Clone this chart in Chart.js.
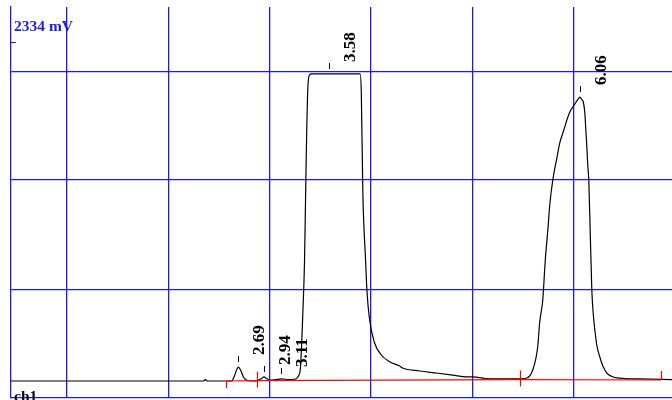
<!DOCTYPE html>
<html>
<head>
<meta charset="utf-8">
<script src="https://cdn.jsdelivr.net/npm/chart.js@4"></script>
<style>
  body { margin: 0; background: #fff; }
  canvas { display: block; }
</style>
</head>
<body>
<canvas id="chrom" width="672" height="400"></canvas>
<script>
// retention time (min) and signal (mV)
const traceTime = [0.447, 2.345, 2.365, 2.385, 2.622, 2.651, 2.676, 2.691, 2.711, 2.740, 2.770, 2.829,
  2.879, 2.918, 2.943, 2.967, 3.007, 3.056, 3.116, 3.195, 3.254, 3.283, 3.303, 3.326, 3.343, 3.359,
  3.375, 3.392, 3.412, 3.891, 3.903, 3.918, 3.945, 3.958, 3.985, 4.034, 4.100, 4.182, 4.281, 4.310,
  4.478, 4.646, 4.804, 4.943, 5.001, 5.169, 5.436, 5.535, 5.594, 5.643, 5.663, 5.693, 5.718, 5.743,
  5.762, 5.792, 5.832, 5.861, 5.901, 5.931, 5.960, 5.990, 6.029, 6.045, 6.060, 6.075, 6.093, 6.108,
  6.118, 6.128, 6.137, 6.147, 6.162, 6.177, 6.192, 6.207, 6.226, 6.256, 6.286, 6.325, 6.375, 6.424,
  6.503, 6.651, 6.968];
const traceMv = [0, 0, 10, 0, 0, 34, 83, 96, 76, 28, 7, 0,
  3, 17, 28, 17, 7, 10, 14, 10, 14, 34, 96, 468, 833, 1522,
  2010, 2107, 2114, 2114, 1983, 1294, 833, 627, 420, 262, 179, 133, 103, 90,
  69, 55, 41, 28, 28, 14, 14, 21, 76, 234, 406, 558, 833, 1040,
  1212, 1384, 1535, 1639, 1728, 1797, 1852, 1886, 1928, 1945, 1955, 1940, 1921, 1845,
  1728, 1611, 1487, 1384, 1005, 627, 454, 351, 248, 165, 103, 55, 31, 21,
  17, 14, 10];

// peaks
const peakTimes = [2.69, 2.94, 3.11, 3.58, 6.06];
const peakMv = [96, 28, 14, 2114, 1955];

// integration baseline and its marks
const markTimes = [2.572, 2.869, 5.466, 6.858];
const markMv = [0, 3, 10, 7];

// axes
const xRange = [0.447, 6.968];
const xGrid = [1, 2, 3, 4, 5, 6];
const yRange = [-117, 2575];
const yGrid = [630, 1384, 2130];
const fullScale = 2334;
const channel = 'ch1';

const BLUE = 'rgb(25,25,255)';
const SERIF = '"Liberation Serif", "Times New Roman", serif';

const overlay = {
  id: 'overlay',
  afterDatasetsDraw(chart) {
    const ctx = chart.ctx;
    const xs = chart.scales.x;
    const ys = chart.scales.y;
    ctx.save();

    // integration marks
    ctx.strokeStyle = 'red';
    ctx.lineWidth = 1.2;
    markTimes.forEach((t, i) => {
      const x = Math.round(xs.getPixelForValue(t)) + 0.5;
      const y = ys.getPixelForValue(markMv[i]);
      let top = y - 9, bot = y + 7;
      if (i === 0) top = y;
      if (i === markTimes.length - 1) bot = y;
      ctx.beginPath();
      ctx.moveTo(x, top);
      ctx.lineTo(x, bot);
      ctx.stroke();
    });

    // peak ticks + retention time labels
    ctx.strokeStyle = '#000';
    ctx.fillStyle = '#000';
    ctx.lineWidth = 1;
    ctx.font = 'bold 17px ' + SERIF;
    ctx.textAlign = 'left';
    ctx.textBaseline = 'alphabetic';
    peakTimes.forEach((t, i) => {
      const x = Math.round(xs.getPixelForValue(t)) + 0.5;
      const y = ys.getPixelForValue(peakMv[i]);
      ctx.beginPath();
      ctx.moveTo(x, y - 11);
      ctx.lineTo(x, y - 5);
      ctx.stroke();
      ctx.save();
      ctx.translate(x + 25, y - 12);
      ctx.rotate(-Math.PI / 2);
      ctx.fillText(t.toFixed(2), 0, 0);
      ctx.restore();
    });

    // full scale mark
    const fy = Math.round(ys.getPixelForValue(fullScale)) + 0.5;
    ctx.strokeStyle = BLUE;
    ctx.beginPath();
    ctx.moveTo(chart.chartArea.left, fy);
    ctx.lineTo(chart.chartArea.left + 5, fy);
    ctx.stroke();
    ctx.fillStyle = BLUE;
    ctx.font = 'bold 15.5px ' + SERIF;
    ctx.fillText(fullScale + ' mV', 14, 31);

    ctx.fillStyle = '#000';
    ctx.fillText(channel, 14, 401);
    ctx.restore();
  }
};

new Chart(document.getElementById('chrom'), {
  type: 'line',
  data: {
    datasets: [
      {
        data: markTimes.map((t, i) => ({ x: t, y: markMv[i] })),
        borderColor: 'red',
        borderWidth: 1.2,
        pointRadius: 0,
        tension: 0
      },
      {
        data: traceTime.map((t, i) => ({ x: t, y: traceMv[i] })),
        borderColor: '#000',
        borderWidth: 1.2,
        pointRadius: 0,
        cubicInterpolationMode: 'monotone'
      }
    ]
  },
  options: {
    responsive: false,
    animation: false,
    layout: { padding: { left: 11, top: 7, right: 0, bottom: 2 } },
    plugins: { legend: { display: false }, tooltip: { enabled: false } },
    scales: {
      x: {
        type: 'linear',
        min: xRange[0],
        max: xRange[1],
        afterBuildTicks: (s) => { s.ticks = xGrid.map(v => ({ value: v })); },
        ticks: { display: false },
        grid: { color: BLUE, lineWidth: 1.3, drawTicks: false },
        border: { color: BLUE, width: 1.3 }
      },
      y: {
        min: yRange[0],
        max: yRange[1],
        afterBuildTicks: (s) => { s.ticks = yGrid.map(v => ({ value: v })); },
        ticks: { display: false },
        grid: { color: BLUE, lineWidth: 1.3, drawTicks: false },
        border: { color: BLUE, width: 1.3 }
      }
    }
  },
  plugins: [overlay]
});
</script>
</body>
</html>
